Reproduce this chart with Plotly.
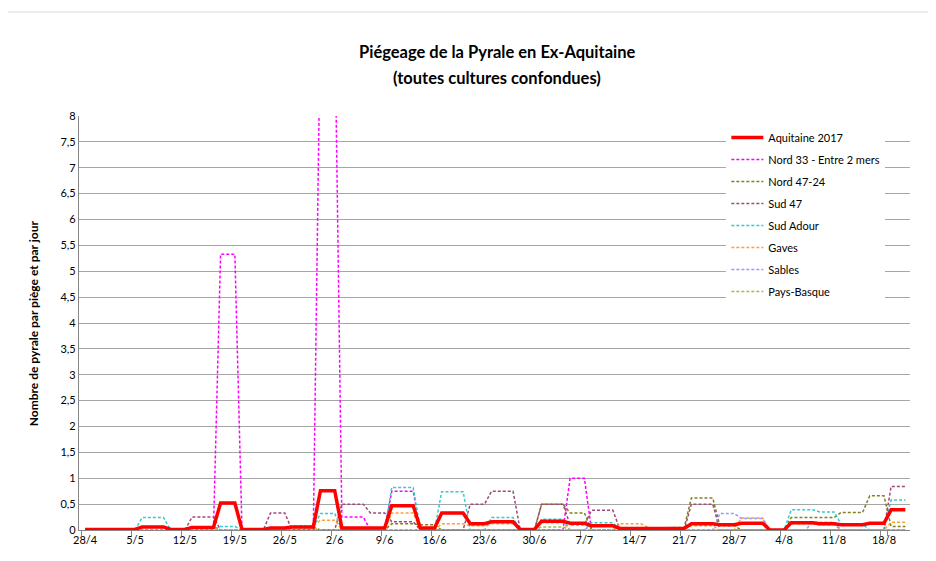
import pandas as pd
import plotly.graph_objects as go

# ---------------- data ----------------
START = "2017-04-28"
N_DAYS = 116  # 28/4 -> 21/8
days = pd.date_range(START, periods=N_DAYS, freq="D")
categories = [f"{d.day}/{d.month}" for d in days]

tick_labels = ["28/4", "5/5", "12/5", "19/5", "26/5", "2/6", "9/6", "16/6", "23/6",
               "30/6", "7/7", "14/7", "21/7", "28/7", "4/8", "11/8", "18/8"]
y_ticks = [0, 0.5, 1, 1.5, 2, 2.5, 3, 3.5, 4, 4.5, 5, 5.5, 6, 6.5, 7, 7.5, 8]

# plateaus: (first day index, last day index, value per trap per day); 0 elsewhere
aquitaine_2017 = [(0, 7, 0.01), (8, 11, 0.06), (12, 14, 0.01), (15, 18, 0.05), (19, 21, 0.52),
                  (22, 25, 0.01), (26, 28, 0.04), (29, 32, 0.06), (33, 35, 0.76), (36, 42, 0.04),
                  (43, 46, 0.47), (47, 49, 0.04), (50, 53, 0.33), (54, 56, 0.12), (57, 60, 0.16),
                  (61, 63, 0.01), (64, 67, 0.17), (68, 70, 0.13), (71, 74, 0.08), (75, 84, 0.03),
                  (85, 88, 0.12), (89, 91, 0.10), (92, 95, 0.13), (99, 102, 0.14),
                  (103, 105, 0.12), (106, 109, 0.10), (110, 112, 0.13), (113, 115, 0.39)]
nord_33 = [(19, 21, 5.33), (33, 35, 10.0), (36, 39, 0.25), (43, 46, 0.75), (68, 70, 1.0)]
nord_47_24 = [(15, 18, 0.06), (29, 32, 0.06), (43, 46, 0.12), (47, 49, 0.10), (64, 67, 0.50),
              (68, 70, 0.33), (82, 84, 0.05), (85, 88, 0.62), (89, 91, 0.08), (99, 105, 0.24),
              (106, 109, 0.34), (110, 112, 0.66), (113, 115, 0.07)]
sud_47 = [(15, 18, 0.25), (26, 28, 0.33), (36, 39, 0.50), (40, 42, 0.33), (43, 46, 0.16),
          (54, 56, 0.50), (57, 60, 0.75), (64, 67, 0.50), (68, 70, 0.10), (71, 74, 0.38),
          (85, 88, 0.50), (113, 115, 0.84)]
sud_adour = [(8, 11, 0.24), (19, 21, 0.07), (29, 32, 0.05), (33, 35, 0.32), (43, 46, 0.82),
             (50, 53, 0.74), (57, 60, 0.24), (64, 67, 0.21), (71, 74, 0.14), (99, 102, 0.39),
             (103, 105, 0.35), (106, 109, 0.11), (113, 115, 0.58)]
gaves = [(29, 32, 0.08), (33, 35, 0.19), (43, 46, 0.33), (50, 53, 0.12), (54, 56, 0.08),
         (57, 60, 0.12), (64, 67, 0.14), (75, 78, 0.12), (79, 84, 0.04), (85, 88, 0.08),
         (92, 95, 0.23), (99, 102, 0.12), (103, 105, 0.10), (113, 115, 0.15)]
sables = [(71, 74, 0.10), (89, 91, 0.32), (92, 95, 0.22), (102, 105, 0.15)]
pays_basque = [(15, 18, 0.04), (29, 32, 0.04), (64, 67, 0.06)]


def expand(segments):
    vals = [0.0] * N_DAYS
    for a, b, v in segments:
        for i in range(a, b + 1):
            vals[i] = v
    return vals


series = [
    ("Nord 33 - Entre 2 mers", nord_33, "#ff00ff", True),
    ("Nord 47-24", nord_47_24, "#808020", False),
    ("Sud 47", sud_47, "#a04878", False),
    ("Sud Adour", sud_adour, "#33cccc", False),
    ("Gaves", gaves, "#ffa030", False),
    ("Sables", sables, "#9999ff", False),
    ("Pays-Basque", pays_basque, "#9cc04a", False),
]

FONT = "Lato"
fig = go.Figure()

for rank, (name, segs, color, clip) in enumerate(series, start=2):
    fig.add_trace(go.Scatter(
        x=categories, y=expand(segs), name=name, mode="lines",
        line=dict(color=color, width=1.5, dash="3px,2px"),
        cliponaxis=clip, legendrank=rank, legendgroup=name,
    ))

fig.add_trace(go.Scatter(
    x=categories, y=expand(aquitaine_2017), name="Aquitaine 2017", mode="lines",
    line=dict(color="#ff0000", width=3.5), cliponaxis=False, legendrank=1,
    legendgroup="Aquitaine 2017",
))

# the page body adds an 8px offset, compensated in the margins
fig.update_layout(
    width=936, height=561,
    margin=dict(l=71, r=34, t=108, b=39, autoexpand=False),
    paper_bgcolor="white", plot_bgcolor="white",
    separators=", ",
    font=dict(family=FONT, size=11, color="#000000"),
    showlegend=True,
    legend=dict(x=0.779, y=0.983, xanchor="left", yanchor="top",
                bgcolor="white", borderwidth=0, font=dict(size=11, family=FONT),
                itemwidth=32, traceorder="grouped", tracegroupgap=3),
    xaxis=dict(type="category", range=[-0.85, 115.65], tickmode="array",
               tickvals=tick_labels, ticktext=tick_labels, tickson="boundaries",
               tickangle=0, automargin=False,
               ticks="outside", ticklen=5, tickcolor="#868686", showgrid=False,
               showline=True, linecolor="#868686", linewidth=1.3,
               tickfont=dict(size=11, family=FONT)),
    yaxis=dict(range=[0, 8], tickmode="array", tickvals=y_ticks, automargin=False,
               showgrid=True, gridcolor="#a6a6a6", gridwidth=1.3,
               showline=True, linecolor="#868686", linewidth=1.3, zeroline=False,
               ticks="", tickfont=dict(size=11, family=FONT)),
    annotations=[
        dict(text="<b>Piégeage de la Pyrale en Ex-Aquitaine</b>", xref="paper", yref="paper",
             x=0.5036, y=1.1546, xanchor="center", yanchor="middle", showarrow=False,
             font=dict(size=16.5, family=FONT)),
        dict(text="<b>(toutes cultures confondues)</b>", xref="paper", yref="paper",
             x=0.5036, y=1.0918, xanchor="center", yanchor="middle", showarrow=False,
             font=dict(size=16.5, family=FONT)),
        dict(text="<b>Nombre de pyrale par piège et par jour</b>", xref="paper", yref="paper",
             x=-0.055, y=0.5, xanchor="center", yanchor="middle", showarrow=False,
             textangle=-90, font=dict(size=12, family=FONT)),
    ],
    shapes=[dict(type="line", xref="paper", yref="paper", x0=-0.095, x1=1.031,
                 y0=1.2512, y1=1.2512, line=dict(color="#d9d9d9", width=1))],
)

fig.write_html("out.html")
